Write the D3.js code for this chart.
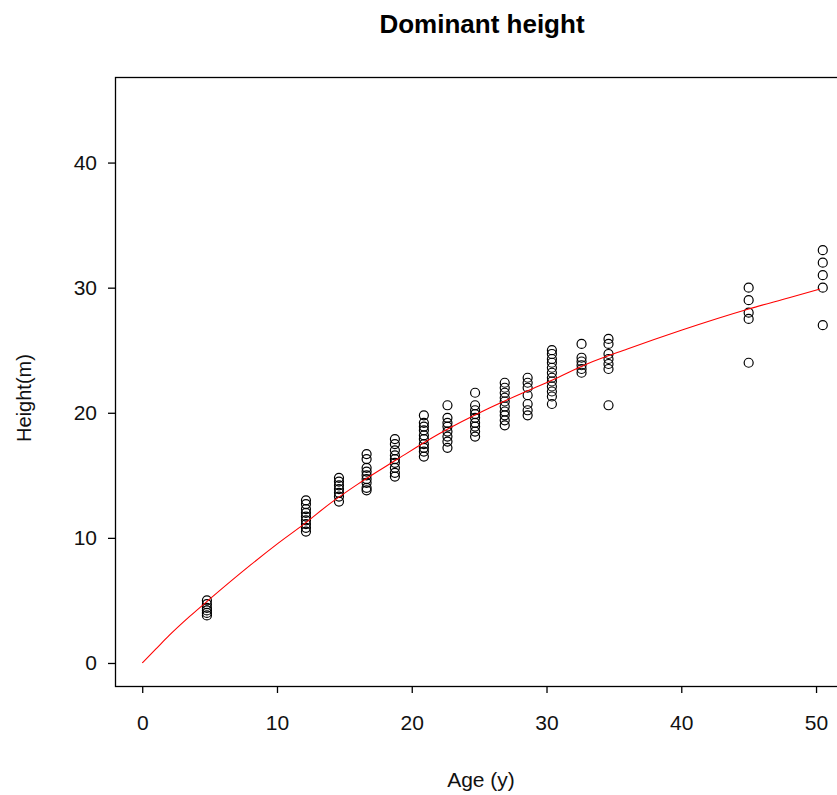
<!DOCTYPE html>
<html>
<head>
<meta charset="utf-8">
<script src="https://cdn.jsdelivr.net/npm/d3@7"></script>
<style>
    body { margin: 0; background: #fff; overflow: hidden; }
    text { font-family: "Liberation Sans", Arial, sans-serif; }
</style>
</head>
<body>
<div id="chart"></div>
<script>
// ages of the stands (one column of points per age)
var ages = [4.8, 12.15, 14.6, 16.65, 18.75, 20.9, 22.65, 24.7, 26.9, 28.6, 30.4, 32.6, 34.6, 45, 50.5];
// heights measured at each age
var heights = [
    [5.0, 4.7, 4.4, 4.2, 4.0, 3.8],
    [13.0, 12.7, 12.3, 12.0, 11.7, 11.4, 11.1, 10.8, 10.5],
    [14.8, 14.5, 14.2, 13.9, 13.6, 13.3, 12.9],
    [16.7, 16.3, 15.6, 15.3, 15.0, 14.7, 14.4, 14.0, 13.8],
    [17.9, 17.5, 17.0, 16.6, 16.3, 16.0, 15.6, 15.2, 14.9],
    [19.8, 19.2, 18.9, 18.6, 18.2, 17.9, 17.5, 17.2, 16.9, 16.5],
    [20.6, 19.6, 19.2, 18.9, 18.5, 18.1, 17.7, 17.2],
    [21.6, 20.6, 20.2, 19.9, 19.6, 19.2, 18.9, 18.5, 18.1],
    [22.4, 22.0, 21.6, 21.2, 20.9, 20.5, 20.1, 19.8, 19.4, 19.0],
    [22.8, 22.4, 22.0, 21.4, 20.7, 20.2, 19.8],
    [25.0, 24.7, 24.3, 24.0, 23.6, 23.2, 22.8, 22.5, 22.1, 21.7, 21.3, 20.7],
    [25.5, 24.4, 24.1, 23.8, 23.5, 23.2],
    [25.9, 25.5, 24.7, 24.3, 23.9, 23.5, 20.6],
    [30.0, 29.0, 28.0, 27.5, 24.0],
    [33.0, 32.0, 31.0, 30.0, 27.0]
];
// fitted curve
var curveAge = [0, 1, 2, 3.5, 5, 8, 10, 12, 14, 16, 18.8, 22, 25.8, 28.7, 30.4, 33, 36, 40, 45, 48, 50.3];
var curveHeight = [0, 1.1, 2.2, 3.7, 5.1, 7.8, 9.5, 11.1, 12.8, 14.3, 16.2, 18.3, 20.4, 21.8, 22.6, 23.9, 25.1, 26.6, 28.3, 29.2, 29.9];
var xTicks = [0, 10, 20, 30, 40, 50];
var yTicks = [0, 10, 20, 30, 40];

var W = 837, H = 795;
// plot box (right edge runs off the page like in the original)
var boxL = 115, boxT = 77, boxR = 850, boxB = 686;

var svg = d3.select('#chart').append('svg').attr('width', W).attr('height', H);

var x = d3.scaleLinear().domain([-2.02, 52.52]).range([boxL, boxR]);
var y = d3.scaleLinear().domain([-1.84, 46.84]).range([boxB, boxT]);

// points
var pts = [];
ages.forEach(function (a, i) {
    heights[i].forEach(function (h) {
        pts.push({age: a, h: h});
    });
});

svg.append('g').selectAll('circle').data(pts).enter().append('circle')
    .attr('cx', function (d) { return x(d.age); })
    .attr('cy', function (d) { return y(d.h); })
    .attr('r', 4.5)
    .attr('fill', 'none')
    .attr('stroke', '#000')
    .attr('stroke-width', 1.2);

// fitted line
var line = d3.line()
    .curve(d3.curveMonotoneX)
    .x(function (d, i) { return x(curveAge[i]); })
    .y(function (d, i) { return y(curveHeight[i]); });
svg.append('path').datum(curveAge).attr('d', line)
    .attr('fill', 'none').attr('stroke', '#ff0000').attr('stroke-width', 1.1);

// box
svg.append('rect').attr('x', boxL + 0.5).attr('y', boxT + 0.5)
    .attr('width', boxR - boxL).attr('height', boxB - boxT)
    .attr('fill', 'none').attr('stroke', '#000').attr('stroke-width', 1.3);

// axes
var xAxis = d3.axisBottom(x).tickValues(xTicks).tickSize(7).tickPadding(22);
var gx = svg.append('g').attr('transform', 'translate(0,' + boxB + ')').call(xAxis);
gx.select('.domain').remove();
gx.selectAll('line').attr('stroke', '#000').attr('stroke-width', 1.3);
gx.selectAll('text').style('font-size', '21px').attr('fill', '#111');

var yAxis = d3.axisLeft(y).tickValues(yTicks).tickSize(7).tickPadding(11);
var gy = svg.append('g').attr('transform', 'translate(' + boxL + ',0)').call(yAxis);
gy.select('.domain').remove();
gy.selectAll('line').attr('stroke', '#000').attr('stroke-width', 1.3);
gy.selectAll('text').style('font-size', '21px').attr('fill', '#111');

// labels
svg.append('text').attr('x', 482).attr('y', 33).attr('text-anchor', 'middle')
    .style('font-size', '26px').style('font-weight', 'bold').attr('fill', '#000')
    .text('Dominant height');
svg.append('text').attr('x', 481).attr('y', 787).attr('text-anchor', 'middle')
    .style('font-size', '21px').attr('fill', '#111').text('Age (y)');
svg.append('text').attr('transform', 'translate(31,398) rotate(-90)').attr('text-anchor', 'middle')
    .style('font-size', '20px').attr('fill', '#111').text('Height(m)');
</script>
</body>
</html>
